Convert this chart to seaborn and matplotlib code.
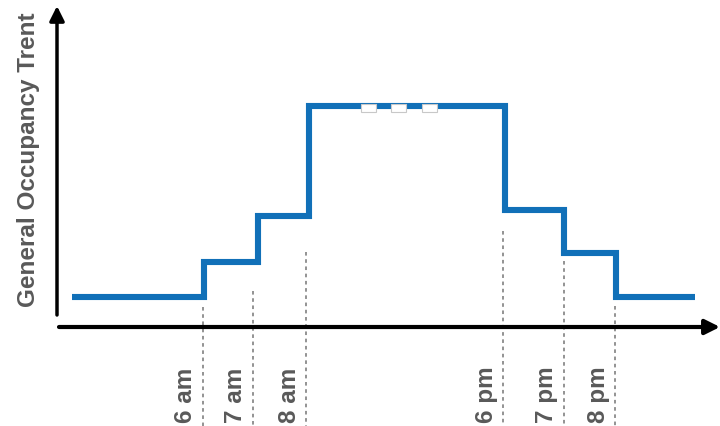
import matplotlib
matplotlib.use("Agg")
import matplotlib.pyplot as plt
from matplotlib.patches import Rectangle
import seaborn as sns
import pandas as pd

# Step profile of occupancy across the day (diagram units along the time axis)
step_x = [72, 204, 258, 309, 505, 564, 615.5, 695]
occupancy = [30, 65, 111, 221, 117, 74, 30, 30]

# Hour markers: position on the time axis, label, and top of the guide line
hour_x = [203, 253, 306, 503, 564, 615]
hour_labels = ["6 am", "7 am", "8 am", "6 pm", "7 pm", "8 pm"]
guide_top = [20, 36, 75, 96, 66, 21]

# Small gap markers sitting on the plateau
gap_x = [361, 391, 422]

sns.set_theme(style="white")
plt.rcParams["font.family"] = ["Liberation Sans", "DejaVu Sans"]

fig = plt.figure(figsize=(7.2, 4.27), dpi=100)
ax = fig.add_axes([0, 0, 1, 1])
ax.set_xlim(0, 720)
ax.set_ylim(-99, 328)
ax.axis("off")

df = pd.DataFrame({"x": step_x, "occupancy": occupancy})
sns.lineplot(data=df, x="x", y="occupancy", drawstyle="steps-post",
             color="#1170b8", linewidth=4.4, ax=ax,
             solid_capstyle="butt", solid_joinstyle="miter", zorder=3)

# Dotted guides from each hour down through the axis
for hx, top in zip(hour_x, guide_top):
    ax.plot([hx, hx], [top, -99], color="#8a8a8a", linewidth=1.3,
            linestyle=(0, (2, 2)), zorder=1)

# Hour labels
for hx, lab in zip(hour_x, hour_labels):
    ax.text(hx - 17, -95, lab, rotation=90, ha="center", va="bottom",
            fontsize=17.5, fontweight="bold", color="#595959")

# Gap markers on the plateau
for gx in gap_x:
    ax.add_patch(Rectangle((gx, 215), 15, 8, facecolor="white",
                           edgecolor="#c8c8c8", linewidth=0.8, zorder=4))

# Axes drawn as arrows
ax.annotate("", xy=(720, 0), xytext=(59, 0),
            arrowprops=dict(arrowstyle="-|>", color="black", lw=3,
                            mutation_scale=22, shrinkA=0, shrinkB=0),
            zorder=2)
ax.annotate("", xy=(57, 321), xytext=(57, 12),
            arrowprops=dict(arrowstyle="-|>", color="black", lw=2.5,
                            mutation_scale=22, shrinkA=0, shrinkB=0),
            zorder=2)

ax.text(29, 168, "General Occupancy Trent", rotation=90, ha="center",
        va="center", fontsize=17.5, fontweight="bold", color="#595959")

fig.savefig("out.png", dpi=100)
